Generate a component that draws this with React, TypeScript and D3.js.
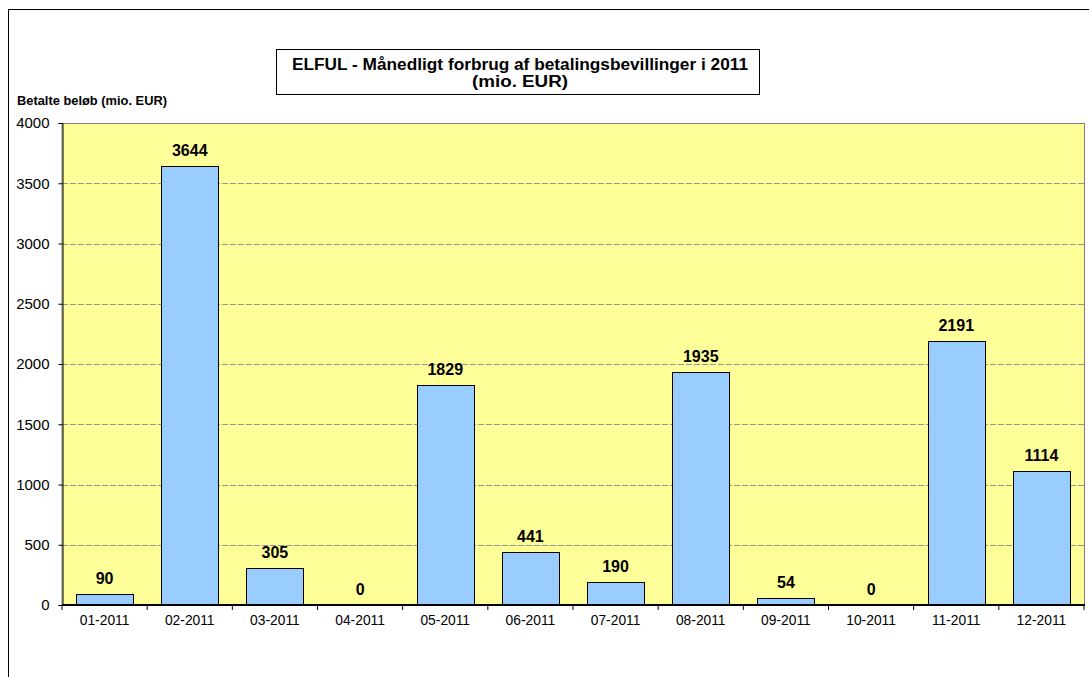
import React, { useRef, useEffect } from 'react';
import * as d3 from 'd3';

const months = ['01-2011', '02-2011', '03-2011', '04-2011', '05-2011', '06-2011', '07-2011', '08-2011', '09-2011', '10-2011', '11-2011', '12-2011'];
const paid = [90, 3644, 305, 0, 1829, 441, 190, 1935, 54, 0, 2191, 1114];
const yTicks = [0, 500, 1000, 1500, 2000, 2500, 3000, 3500, 4000];
const titleLines = ['ELFUL - Månedligt forbrug af betalingsbevillinger i 2011', '(mio. EUR)'];
const yTitle = 'Betalte beløb (mio. EUR)';

const FONT = '"Liberation Sans", Arial, sans-serif';

const App = () => {
  const svgRef = useRef<SVGSVGElement>(null);

  useEffect(() => {
    const svg = d3.select(svgRef.current);
    svg.selectAll('*').remove();

    const width = 1089;
    const height = 677;
    const plot = { left: 62, top: 123, right: 1084, bottom: 605 };

    svg.attr('width', width).attr('height', height);

    // white background + outer chart frame
    svg.append('rect').attr('width', width).attr('height', height).attr('fill', '#fff');
    svg.append('rect')
      .attr('x', 8.5).attr('y', 9.5)
      .attr('width', width + 20).attr('height', height + 20)
      .attr('fill', 'none').attr('stroke', '#000').attr('stroke-width', 1);

    const x = d3.scaleBand()
      .domain(months)
      .range([plot.left, plot.right])
      .paddingInner(0.33)
      .paddingOuter(0.165);

    const y = d3.scaleLinear()
      .domain([0, 4000])
      .range([plot.bottom, plot.top]);

    // plot area
    svg.append('rect')
      .attr('x', plot.left).attr('y', plot.top + 0.5)
      .attr('width', plot.right - plot.left + 0.5).attr('height', plot.bottom - plot.top)
      .attr('fill', '#FFFF99')
      .attr('stroke', '#808080').attr('stroke-width', 1);

    // dashed grid lines
    svg.append('g')
      .selectAll('line')
      .data(yTicks.filter(t => t > 0 && t < 4000))
      .enter().append('line')
      .attr('x1', plot.left).attr('x2', plot.right)
      .attr('y1', d => Math.round(y(d)) + 0.5).attr('y2', d => Math.round(y(d)) + 0.5)
      .attr('stroke', '#969696')
      .attr('stroke-dasharray', '6,2')
      .attr('stroke-width', 1);

    // bars
    svg.append('g')
      .selectAll('rect')
      .data(paid)
      .enter().append('rect')
      .attr('x', (d, i) => Math.round(x(months[i])!) + 0.5)
      .attr('y', d => Math.round(y(d)) + 0.5)
      .attr('width', Math.round(x.bandwidth()))
      .attr('height', d => Math.max(0, plot.bottom - Math.round(y(d))))
      .attr('fill', '#99CCFF')
      .attr('stroke', d => (d > 0 ? '#000' : 'none'))
      .attr('stroke-width', 1);

    // value labels
    svg.append('g')
      .selectAll('text')
      .data(paid)
      .enter().append('text')
      .attr('x', (d, i) => x(months[i])! + x.bandwidth() / 2)
      .attr('y', d => y(d) - 10)
      .attr('text-anchor', 'middle')
      .style('font-family', FONT)
      .style('font-size', '16px')
      .style('font-weight', 'bold')
      .style('fill', '#000')
      .text(d => d);

    // y axis
    const yAxis = svg.append('g')
      .attr('transform', `translate(${plot.left + 0.5},0)`)
      .call(d3.axisLeft(y).tickValues(yTicks).tickSize(4).tickPadding(9).tickFormat(d3.format('d')));
    yAxis.select('.domain').attr('stroke', '#000');
    yAxis.selectAll('line').attr('stroke', '#000');
    yAxis.selectAll('text')
      .style('font-family', FONT)
      .style('font-size', '15px')
      .style('fill', '#000');

    // x axis, ticks on category boundaries
    const xAxis = svg.append('g')
      .attr('transform', `translate(0,${plot.bottom})`);
    xAxis.append('line')
      .attr('x1', plot.left).attr('x2', plot.right + 1)
      .attr('stroke', '#000').attr('stroke-width', 2);
    const step = x.step();
    xAxis.selectAll('.tick')
      .data(d3.range(months.length + 1))
      .enter().append('line')
      .attr('x1', i => plot.left + i * step).attr('x2', i => plot.left + i * step)
      .attr('y1', 0).attr('y2', 5)
      .attr('stroke', '#000');
    xAxis.selectAll('text')
      .data(months)
      .enter().append('text')
      .attr('x', d => x(d)! + x.bandwidth() / 2)
      .attr('y', 20)
      .attr('text-anchor', 'middle')
      .style('font-family', FONT)
      .style('font-size', '13.8px')
      .style('fill', '#000')
      .text(d => d);

    // y axis title
    svg.append('text')
      .attr('x', 17).attr('y', 105)
      .attr('textLength', 150)
      .attr('lengthAdjust', 'spacingAndGlyphs')
      .style('font-family', FONT)
      .style('font-size', '12.5px')
      .style('font-weight', 'bold')
      .text(yTitle);

    // title box
    svg.append('rect')
      .attr('x', 276.5).attr('y', 49.5)
      .attr('width', 483).attr('height', 45)
      .attr('fill', '#fff')
      .attr('stroke', '#000').attr('stroke-width', 1);
    const titleWidths = [456, 96];
    svg.append('g')
      .selectAll('text')
      .data(titleLines)
      .enter().append('text')
      .attr('x', (d, i) => 520 - titleWidths[i] / 2)
      .attr('y', (d, i) => 70 + i * 17)
      .attr('textLength', (d, i) => titleWidths[i])
      .attr('lengthAdjust', 'spacingAndGlyphs')
      .style('font-family', FONT)
      .style('font-size', '16px')
      .style('font-weight', 'bold')
      .text(d => d);
  }, []);

  return (
    <svg
      ref={svgRef}
      style={{ position: 'absolute', left: 0, top: 0, display: 'block' }}
    />
  );
};

export default App;
